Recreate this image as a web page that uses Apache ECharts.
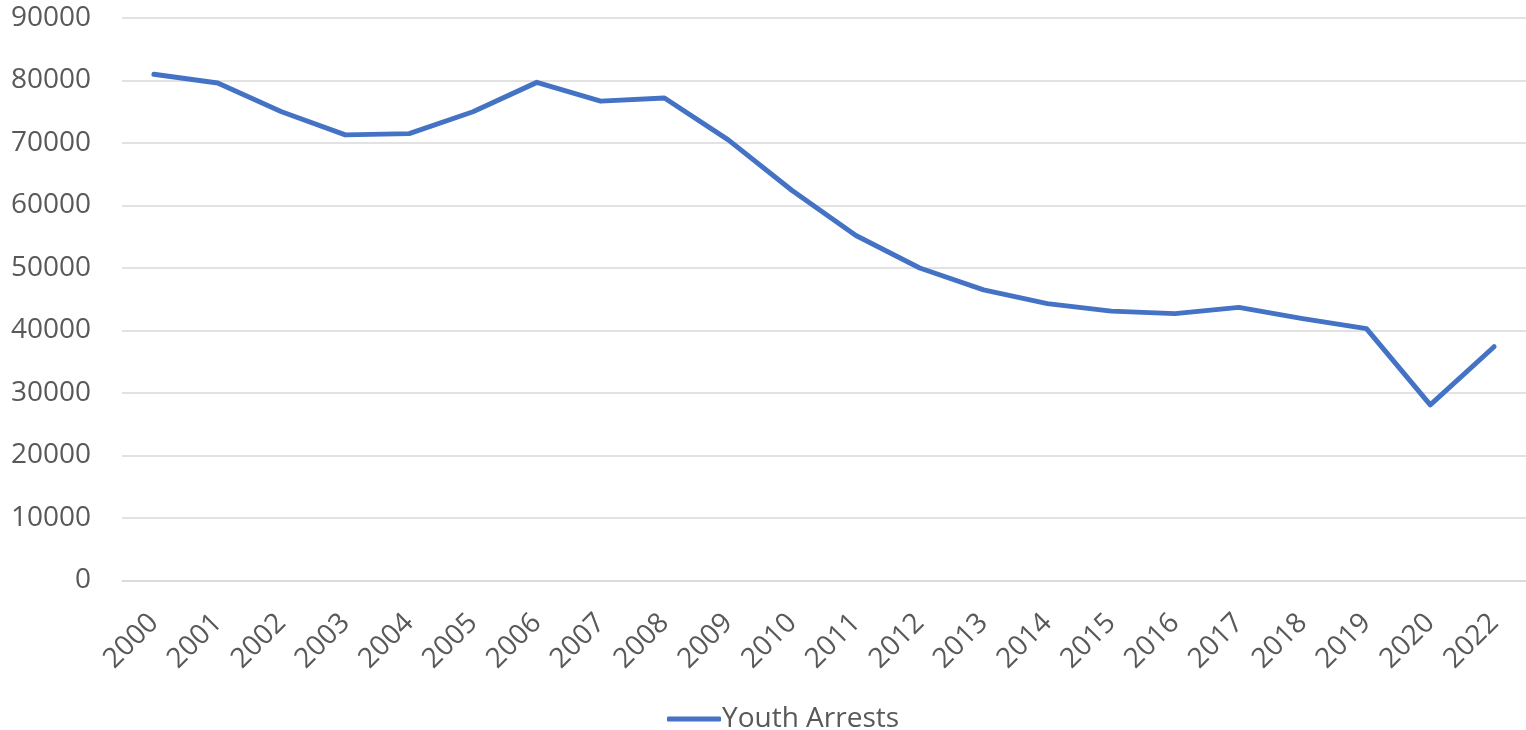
<!DOCTYPE html>
<html>
<head>
<meta charset="utf-8">
<script src="https://cdn.jsdelivr.net/npm/echarts@6/dist/echarts.min.js"></script>
<style>
  html, body { margin: 0; padding: 0; background: #fff; }
  #main { width: 1526px; height: 730px; }
</style>
</head>
<body>
<div id="main"></div>
<script>
var years = ['2000', '2001', '2002', '2003', '2004', '2005', '2006', '2007', '2008', '2009', '2010',
  '2011', '2012', '2013', '2014', '2015', '2016', '2017', '2018', '2019', '2020', '2022'];
var arrests = [81000, 79600, 75000, 71300, 71500, 75000, 79700, 76700, 77200, 70500, 62400,
  55200, 50000, 46500, 44300, 43100, 42700, 43700, 41900, 40300, 28100, 37400];
var seriesName = 'Youth Arrests';

var chartDom = document.getElementById('main');
var myChart = echarts.init(chartDom, null, { renderer: 'canvas' });

var textColor = '#595959';
var fontFam = '"Open Sans", sans-serif';

var option = {
  animation: false,
  grid: { left: 122, top: 18, width: 1407, height: 562.5, containLabel: false },
  legend: {
    data: [seriesName],
    top: 700,
    left: 662,
    icon: 'roundRect',
    itemWidth: 54,
    itemHeight: 5,
    itemGap: 10,
    textStyle: { color: textColor, fontSize: 28, fontFamily: fontFam, padding: [0, 0, 0, -4] }
  },
  xAxis: {
    type: 'category',
    data: years,
    boundaryGap: true,
    axisLine: { show: true, lineStyle: { color: '#d9d9d9', width: 1.5 } },
    axisTick: { show: false },
    axisLabel: { rotate: 45, margin: 38, color: textColor, fontSize: 28, fontFamily: fontFam, interval: 0 }
  },
  yAxis: {
    type: 'value',
    min: 0,
    max: 90000,
    interval: 10000,
    axisLine: { show: false },
    axisTick: { show: false },
    splitLine: { lineStyle: { color: '#d9d9d9', width: 1.5 } },
    axisLabel: {
      margin: 31, color: textColor, fontSize: 28, fontFamily: fontFam,
      formatter: function(v) { return String(v); }
    }
  },
  series: [{
    name: seriesName,
    type: 'line',
    data: arrests,
    symbol: 'none',
    lineStyle: { color: '#4472C4', width: 5, cap: 'round', join: 'round' },
    itemStyle: { color: '#4472C4' }
  }]
};

myChart.setOption(option);
window.addEventListener('resize', function() {
  myChart.resize();
});
</script>
</body>
</html>
